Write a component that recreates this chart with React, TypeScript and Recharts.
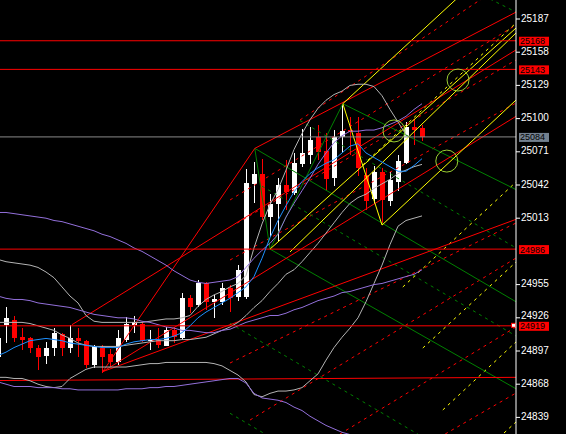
import React from 'react';
import {
  ComposedChart, Bar, Line, XAxis, YAxis, ReferenceLine, ReferenceDot,
} from 'recharts';

// bar index (one bar = 8px), OHLC
const bars = [-1, 0, 1, 2, 3, 4, 5, 6, 7, 8, 9, 10, 11, 12, 13, 14, 15, 16, 17, 18, 19, 20, 21, 22, 23, 24, 25, 26, 27, 28, 29, 30, 31, 32, 33, 34, 35, 36, 37, 38, 39, 40, 41, 42, 43, 44, 45, 46, 47, 48, 49, 50, 51, 52];
const opens = [24892, 24920, 24924, 24909, 24908, 24900, 24893, 24900, 24912, 24900, 24908, 24906, 24885, 24900, 24894, 24887, 24907, 24920, 24921, 24906, 24907, 24901, 24915, 24908, 24943, 24937, 24956, 24940, 24940, 24952, 24944, 24944, 25043, 25052, 25014, 25025, 25042, 25035, 25060, 25068, 25084, 25072, 25048, 25084, 25090, 25087, 25051, 25030, 25053, 25028, 25045, 25061, 25093, 25092];
const highs = [24915, 24935, 24928, 24917, 24909, 24902, 24905, 24917, 24913, 24920, 24917, 24907, 24902, 24902, 24899, 24915, 24927, 24928, 24922, 24915, 24917, 24918, 24918, 24948, 24946, 24959, 24957, 24946, 24956, 24955, 24972, 25056, 25062, 25065, 25034, 25048, 25064, 25070, 25091, 25093, 25094, 25087, 25090, 25112, 25101, 25101, 25057, 25059, 25057, 25053, 25068, 25097, 25099, 25094];
const lows = [24887, 24904, 24905, 24898, 24895, 24880, 24886, 24893, 24893, 24895, 24892, 24882, 24882, 24878, 24883, 24885, 24905, 24913, 24905, 24898, 24900, 24901, 24904, 24907, 24930, 24935, 24933, 24926, 24937, 24931, 24941, 24942, 25026, 25011, 24997, 24992, 25020, 25033, 25058, 25060, 25064, 25038, 25041, 25071, 25068, 25050, 25020, 25025, 25007, 25024, 25037, 25060, 25077, 25080];
const closes = [24908, 24926, 24908, 24907, 24900, 24892, 24900, 24913, 24900, 24908, 24906, 24885, 24901, 24892, 24887, 24908, 24921, 24922, 24906, 24907, 24902, 24915, 24909, 24943, 24935, 24956, 24940, 24942, 24952, 24943, 24968, 25044, 25052, 25014, 25025, 25042, 25036, 25061, 25070, 25081, 25071, 25047, 25084, 25089, 25088, 25057, 25028, 25053, 25029, 25046, 25063, 25093, 25090, 25084];

// indicators
const fastMa = [24893, 24896, 24900, 24903, 24906, 24907, 24908, 24907, 24906, 24904, 24903, 24902, 24901, 24900, 24900, 24900, 24903, 24905, 24906, 24907, 24907, 24908, 24910, 24913, 24919, 24926, 24931, 24935, 24939, 24943, 24948, 24953, 24962, 24978, 24996, 25011, 25024, 25036, 25045, 25052, 25057, 25061, 25064, 25070, 25076, 25078, 25070, 25066, 25062, 25058, 25054, 25054, 25059, 25065];
const envUpper = [25018, 25018, 25017, 25016, 25015, 25014, 25013, 25011, 25010, 25008, 25006, 25004, 25002, 24999, 24997, 24994, 24991, 24987, 24984, 24980, 24976, 24972, 24967, 24963, 24959, 24957, 24956, 24957, 24958, 24959, 24962, 24970, 24978, 24985, 24991, 24999, 25014, 25026, 25037, 25048, 25060, 25070, 25079, 25085, 25089, 25089, 25090, 25090, 25092, 25095, 25098, 25102, 25108, 25113];
const envMid = [24945, 24943, 24942, 24942, 24941, 24939, 24938, 24937, 24936, 24935, 24933, 24931, 24929, 24928, 24927, 24926, 24926, 24925, 24923, 24922, 24920, 24918, 24917, 24915, 24915, 24914, 24913, 24913, 24915, 24916, 24919, 24922, 24924, 24926, 24928, 24928, 24930, 24933, 24935, 24938, 24941, 24943, 24945, 24948, 24949, 24951, 24953, 24955, 24956, 24958, 24960, 24962, 24964, 24968];
const envLower = [24870, 24868, 24866, 24866, 24866, 24865, 24865, 24865, 24864, 24864, 24863, 24863, 24863, 24863, 24863, 24863, 24864, 24864, 24864, 24865, 24865, 24866, 24866, 24867, 24868, 24869, 24870, 24871, 24872, 24873, 24873, 24869, 24860, 24856, 24855, 24854, 24852, 24848, 24845, 24840, 24836, 24832, 24829, 24826, 24824, 24821, null, null, null, null, null, null, null, null];
const bbUpper = [24977, 24975, 24974, 24973, 24972, 24970, 24966, 24961, 24953, 24945, 24939, 24928, 24923, 24922, 24922, 24922, 24922, 24922, 24922, 24923, 24924, 24925, 24925, 24926, 24928, 24936, 24942, 24946, 24949, 24953, 24956, 24963, 24987, 25008, 25025, 25038, 25055, 25073, 25087, 25099, 25109, 25116, 25121, 25124, 25129, 25130, 25130, 25128, 25120, 25108, 25097, 25086, null, null];
const bbMid = [24922, 24922, 24922, 24922, 24921, 24919, 24917, 24915, 24911, 24908, 24904, 24902, 24901, 24901, 24901, 24901, 24902, 24903, 24904, 24905, 24906, 24906, 24906, 24907, 24907, 24908, 24909, 24912, 24915, 24918, 24922, 24928, 24935, 24941, 24949, 24956, 24964, 24968, 24975, 24983, 24991, 25000, 25009, 25018, 25026, 25031, 25034, 25039, 25043, 25047, 25052, 25055, 25058, 25060];
const bbLower = [24874, 24874, 24873, 24873, 24871, 24868, 24866, 24865, 24866, 24873, 24877, 24881, 24883, 24883, 24883, 24883, 24883, 24884, 24885, 24886, 24886, 24887, 24887, 24887, 24887, 24887, 24887, 24886, 24884, 24880, 24876, 24870, 24859, 24857, 24860, 24862, 24862, 24863, 24865, 24871, 24877, 24889, 24900, 24909, 24917, 24926, 24940, 24956, 24972, 24990, 25006, 25011, 25013, 25015];

// price levels and axis
const redLevels = [25168, 25143, 24986, 24919];
const bidLevel = 25084;
const axisTicks = [24839, 24868, 24897, 24926, 24955, 25013, 25042, 25071, 25100, 25129, 25158, 25187];

// drawn objects, [bar, price] pairs
const redSolid = [
  [[12.1, 24879], [31.1, 25074]],
  [[31.1, 25074], [63.75, 25193]],
  [[12.1, 24879], [63.75, 25102]],
  [[8.25, 24920], [63.75, 25160]],
  [[12.1, 24879], [63.75, 25012]],
  [[-0.75, 24871.2], [63.75, 24874]],
];
const redDashed = [
  [[28, 24886.5], [63.75, 25008.8]],
  [[30.5, 24836.7], [63.75, 24978.2]],
  [[41.75, 24824.5], [63.75, 24918]],
  [[54.9, 24824.5], [63.75, 24860.3]],
  [[28, 24976.5], [63.75, 25113.6]],
  [[28, 25028.9], [63.75, 25181.8]],
  [[28.9, 25008.8], [63.75, 25151.2]],
  [[36.75, 25098.8], [63.75, 25224.6]],
];
const greenSolid = [
  [[31.1, 25074], [33, 24986]],
  [[33, 24986], [42.1, 25113]],
  [[31.1, 25074], [63.75, 24940]],
  [[33, 24986], [63.75, 24864]],
  [[42.1, 25113], [63.75, 25038]],
];
const greenDashed = [
  [[32, 25041], [63.75, 24910.1]],
  [[36.75, 25098.3], [63.75, 24987]],
  [[28, 24921.2], [63.75, 24773.8]],
  [[28, 24842.6], [63.75, 24695.2]],
  [[54.25, 25226.3], [63.75, 25193.1]],
];
const yellowSolid = [
  [[42.1, 25113], [47, 25007]],
  [[33, 24986], [63.75, 25179.1]],
  [[47, 25007], [63.75, 25116.2]],
  [[42.1, 25113], [63.75, 25252.5]],
  [[35.5, 24983.5], [63.75, 25174.8]],
];
const yellowDashed = [
  [[44.6, 25059.5], [63.75, 25183.5]],
  [[49.6, 24952.9], [63.75, 25044.6]],
  [[52.1, 24899.6], [63.75, 24974.7]],
  [[54.6, 24845.5], [63.75, 24904.9]],
  [[57.1, 24792.2], [63.75, 24835]],
];
const circles = [[56.5, 25133.7], [48.5, 25089.2], [55.1, 25062.9]];

const chartData = bars.map((b, k) => ({
  i: b,
  open: opens[k],
  high: highs[k],
  low: lows[k],
  close: closes[k],
  range: [lows[k], highs[k]],
  ma: fastMa[k],
  eu: envUpper[k],
  em: envMid[k],
  el: envLower[k],
  bu: bbUpper[k],
  bm: bbMid[k],
  bl: bbLower[k],
}));

const FONT = '"Liberation Sans", Arial, sans-serif';

const Candle = (props: any) => {
  const { x, y, width, height, payload } = props;
  if (!payload) return null;
  const { open, close, high, low } = payload;
  const top = Math.min(y, y + height);
  const h = Math.abs(height);
  const ppu = h / (high - low || 1);
  const color = close >= open ? '#ffffff' : '#ff0000';
  const left = Math.round(x);
  const bodyTop = top + (high - Math.max(open, close)) * ppu;
  const bodyH = Math.max(1, Math.abs(open - close) * ppu);
  return (
    <g shapeRendering="crispEdges">
      <line x1={left + 2.5} x2={left + 2.5} y1={top} y2={top + h} stroke={color} strokeWidth={1} />
      <rect x={left} y={bodyTop} width={5} height={bodyH} fill={color} />
    </g>
  );
};

// right-axis tick; the one just above the 24919 tag is nudged up a little
const AxisTick = ({ x, y, payload }: any) => (
  <text
    x={x}
    y={y + (payload.value === 24926 ? -2.5 : -1)}
    dy="0.355em"
    fontSize={10}
    fontFamily={FONT}
    fill="#fff"
    textAnchor="start"
  >
    {payload.value}
  </text>
);

const PriceTag = ({ viewBox, text, bg, marker }: any) => {
  if (!viewBox) return null;
  const right = viewBox.x + viewBox.width;
  const yy = viewBox.y;
  return (
    <g>
      <rect x={right + 3} y={yy - 4} width={30} height={9} fill={bg} />
      <text x={right + 4} y={yy + 3.5} fontSize={9} fontFamily={FONT} fill="#000">{text}</text>
      {marker && <rect x={right - 4.5} y={yy - 2.5} width={4} height={4} fill="#fff" stroke="#ff0000" />}
    </g>
  );
};

const seg = (s: number[][]) => [{ x: s[0][0], y: s[0][1] }, { x: s[1][0], y: s[1][1] }];

export default function App() {
  return (
    <div style={{ position: 'absolute', left: 0, top: 0, width: 566, height: 434, background: '#000', overflow: 'hidden' }}>
      <ComposedChart width={566} height={434} data={chartData} margin={{ top: 0, right: 0, bottom: 0, left: 0 }}>
        <XAxis dataKey="i" type="number" domain={[-0.75, 63.75]} allowDataOverflow hide />
        <YAxis
          orientation="right"
          width={50}
          domain={[24824.5, 25203.6]}
          allowDataOverflow
          ticks={axisTicks}
          interval={0}
          tickSize={4}
          tickMargin={1}
          axisLine={{ stroke: '#fff' }}
          tickLine={{ stroke: '#fff' }}
          tick={<AxisTick />}
        />

        {redDashed.map((s, k) => (
          <ReferenceLine key={`rd${k}`} segment={seg(s)} ifOverflow="hidden" stroke="#ff0000" strokeDasharray="3 4" />
        ))}
        {greenDashed.map((s, k) => (
          <ReferenceLine key={`gd${k}`} segment={seg(s)} ifOverflow="hidden" stroke="#008000" strokeDasharray="3 4" />
        ))}
        {yellowDashed.map((s, k) => (
          <ReferenceLine key={`yd${k}`} segment={seg(s)} ifOverflow="hidden" stroke="#ffff00" strokeDasharray="3 4" />
        ))}
        {greenSolid.map((s, k) => (
          <ReferenceLine key={`gs${k}`} segment={seg(s)} ifOverflow="hidden" stroke="#008000" />
        ))}
        {redSolid.map((s, k) => (
          <ReferenceLine key={`rs${k}`} segment={seg(s)} ifOverflow="hidden" stroke="#ff0000" />
        ))}
        {yellowSolid.map((s, k) => (
          <ReferenceLine key={`ys${k}`} segment={seg(s)} ifOverflow="hidden" stroke="#ffff00" />
        ))}

        <Line dataKey="bu" stroke="#b4b4b4" dot={false} strokeWidth={1} isAnimationActive={false} />
        <Line dataKey="bm" stroke="#b4b4b4" dot={false} strokeWidth={1} isAnimationActive={false} />
        <Line dataKey="bl" stroke="#b4b4b4" dot={false} strokeWidth={1} isAnimationActive={false} />
        <Line dataKey="eu" stroke="#9370db" dot={false} strokeWidth={1} isAnimationActive={false} />
        <Line dataKey="em" stroke="#9370db" dot={false} strokeWidth={1} isAnimationActive={false} />
        <Line dataKey="el" stroke="#9370db" dot={false} strokeWidth={1} isAnimationActive={false} />

        <ReferenceLine
          y={bidLevel}
          stroke="#8a8a8a"
          label={(p: any) => <PriceTag viewBox={p.viewBox} text={String(bidLevel)} bg="#738190" />}
        />
        {redLevels.map((lv) => (
          <ReferenceLine
            key={`lv${lv}`}
            y={lv}
            stroke="#ff0000"
            label={(p: any) => <PriceTag viewBox={p.viewBox} text={String(lv)} bg="#ff0000" marker={lv === 24919} />}
          />
        ))}

        <Bar dataKey="range" shape={<Candle />} barSize={5} isAnimationActive={false} />
        <Line dataKey="ma" stroke="#1e90ff" dot={false} strokeWidth={1} isAnimationActive={false} />

        {circles.map((c, k) => (
          <ReferenceDot key={`c${k}`} x={c[0]} y={c[1]} r={11} fill="none" stroke="#9acd32" strokeWidth={1} />
        ))}
      </ComposedChart>
    </div>
  );
}
